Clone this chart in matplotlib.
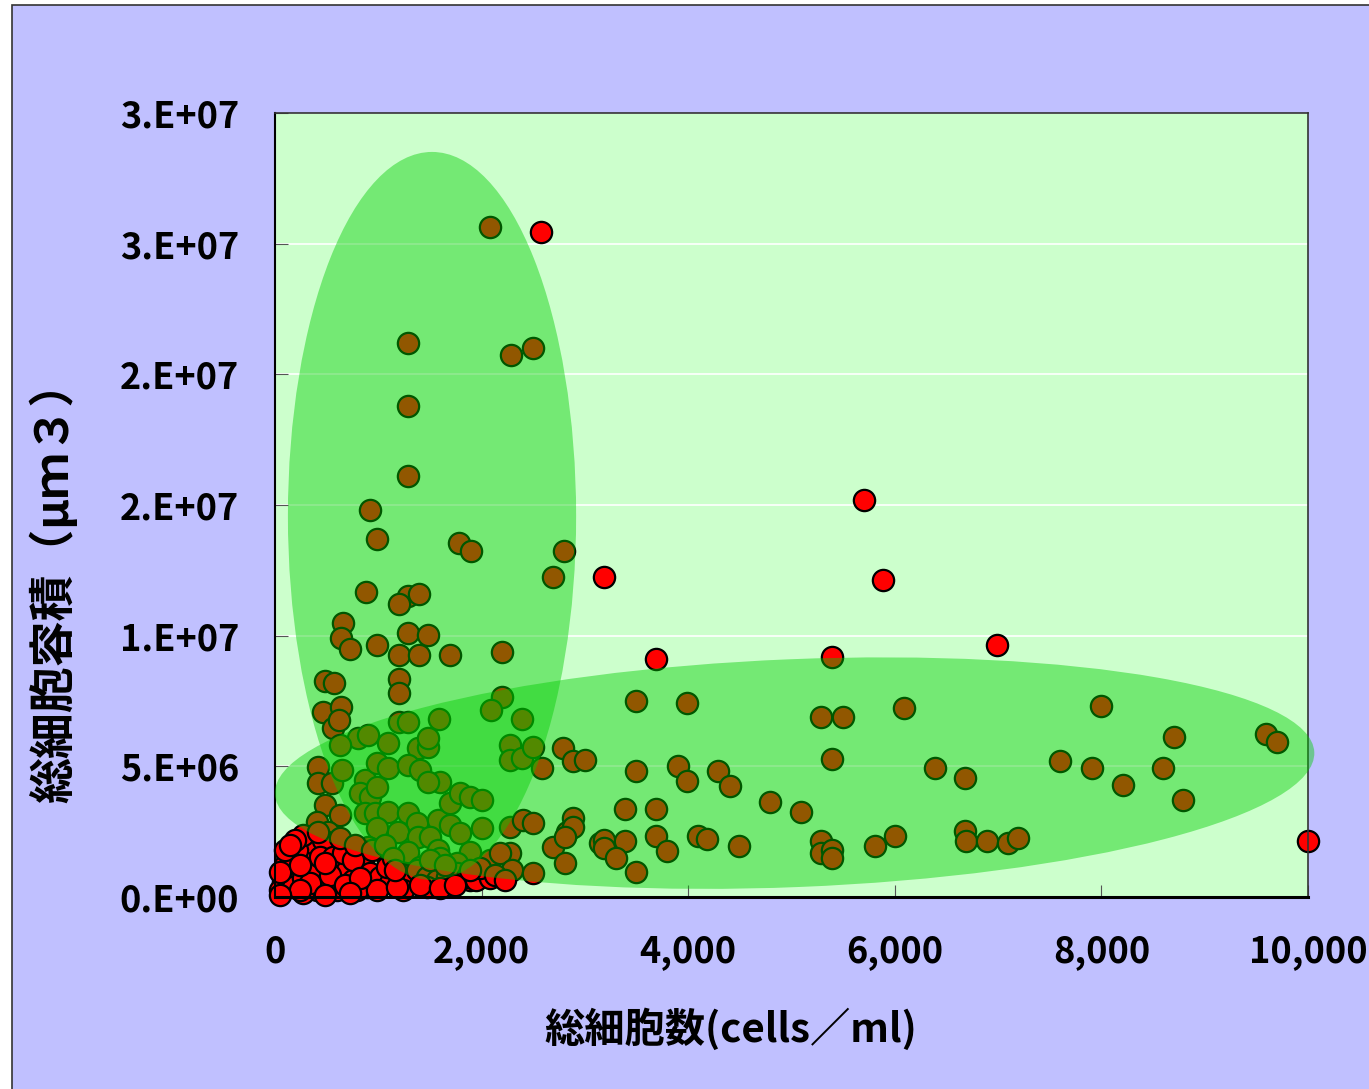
import numpy as np
import matplotlib
matplotlib.use('Agg')
import matplotlib.pyplot as plt
from matplotlib.patches import Ellipse, Rectangle
from matplotlib.transforms import IdentityTransform

plt.rcParams['font.family'] = ['Noto Sans CJK JP', 'DejaVu Sans']

# 総細胞数 (cells/ml) and 総細胞容積 (um3)
cells = np.array([
    # isolated high points
    2575, 5700, 3185, 5885, 3690, 5390, 6990, 10000,
    # upper part of the vertical group
    2080, 1287, 2285, 2497, 1287, 1287, 920, 987, 1781, 1897, 2797, 2691,
    881, 1287, 1394, 1200, 658, 639, 726, 987, 1287, 1481, 1200, 1394, 1694, 2197,
    # crowded middle
    484, 571, 1200, 1200, 465, 639, 561, 620, 1200, 1287, 1588, 2197, 2091, 2391,
    803, 900, 629, 1094, 1384, 1481, 1481, 2275, 2275, 2391, 2497, 2585, 2788, 2885, 3001,
    416, 416, 552, 649, 871, 987, 1094, 1287, 1404, 1597, 1481, 823, 920, 987,
    484, 629, 407, 513, 610, 871, 968, 1094, 1287, 1375, 1578, 1694, 1791, 1888, 2004,
    987, 1191, 1384, 1500, 1694, 1791, 2004, 2275, 2401, 2497, 2275, 2081, 2178, 2294, 2497,
    2691, 2807, 2885, 2827, 3146, 774, 900, 1287, 1578, 1888, 1084, 1404, 1597, 1762, 2013, 1888,
    # horizontal group
    3494, 3988, 5285, 5498, 6089, 5392, 6389, 3494, 3901, 3988, 4288, 4404, 4792, 5092,
    3388, 3688, 2885, 2807, 3185, 3185, 3388, 3301, 3688, 3795, 4095, 4182, 4492,
    5285, 5285, 5392, 5392, 5808, 6002, 3494, 6680, 6680, 6690,
    8000, 8700, 9590, 9700, 7600, 7910, 8210, 8600, 8790, 6890, 7095, 7190,
    # small cells near the origin
    77, 48, 145, 174, 271, 339, 310, 368, 465, 436, 561, 600, 503, 407, 271,
    697, 755, 852, 920, 891, 1016, 1113, 1084, 1210, 1307, 1239, 1375, 1471, 1568, 1665,
    1762, 1859, 145, 213, 658, 755, 339, 600, 794, 987, 1181, 1471, 271, 416, 97, 48,
    1946, 2081,
    97, 194, 629, 774, 939, 1065, 1142, 1500, 1646, 1984, 2130, 2226, 242, 532,
    678, 823, 1162, 1404, 1597, 1742, 1888, 484, 145, 242, 484, 726, 48,
])
volume = np.array([
    25.45, 15.19, 12.24, 12.13, 9.11, 9.18, 9.64, 2.14,
    25.64, 21.20, 20.74, 21.01, 18.79, 16.11, 14.81, 13.70, 13.55, 13.24, 13.24, 12.24,
    11.67, 11.52, 11.59, 11.21, 10.48, 9.91, 9.49, 9.64, 10.10, 10.03, 9.26, 9.26, 9.26, 9.37,
    8.27, 8.19, 8.34, 7.81, 7.08, 7.27, 6.47, 6.77, 6.70, 6.70, 6.81, 7.65, 7.16, 6.81,
    6.08, 6.20, 5.82, 5.89, 5.70, 5.74, 6.08, 5.82, 5.24, 5.32, 5.74, 4.94, 5.70, 5.20, 5.24,
    4.97, 4.36, 4.36, 4.86, 4.48, 5.13, 4.94, 5.05, 4.86, 4.40, 4.40, 3.98, 3.83, 4.21,
    3.52, 3.14, 2.87, 2.49, 2.10, 3.21, 3.21, 3.25, 3.21, 2.83, 2.95, 3.60, 3.98, 3.83, 3.71,
    2.64, 2.49, 2.30, 2.30, 2.76, 2.45, 2.64, 2.68, 2.95, 2.83, 1.68, 1.42, 1.68, 1.03, 0.92,
    1.91, 1.30, 3.02, 2.49, 2.07, 1.91, 1.91, 1.72, 1.80, 1.72, 1.53, 1.15, 1.49, 1.30, 0.92, 0.65,
    7.50, 7.42, 6.89, 6.89, 7.23, 5.28, 4.94, 4.82, 5.01, 4.44, 4.82, 4.25, 3.64, 3.25,
    3.37, 3.37, 2.68, 2.30, 2.18, 1.88, 2.14, 1.49, 2.33, 1.76, 2.33, 2.22, 1.95,
    2.14, 1.68, 1.80, 1.49, 1.95, 2.33, 0.96, 4.55, 2.53, 2.14,
    7.31, 6.12, 6.24, 5.93, 5.20, 4.94, 4.29, 4.94, 3.71, 2.14, 2.07, 2.26,
    0.57, 0.27, 0.77, 0.38, 0.73, 1.03, 1.68, 2.07, 2.18, 1.53, 1.53, 1.03, 0.54, 0.27, 0.15,
    1.03, 0.65, 1.30, 0.92, 0.38, 0.77, 0.54, 1.15, 0.92, 0.65, 0.27, 1.03, 0.77, 0.65, 0.77,
    0.92, 0.77, 1.53, 1.80, 1.68, 1.42, 0.54, 0.27, 0.27, 0.27, 0.38, 0.38, 2.37, 2.49, 1.22, 0.96,
    0.65, 0.73,
    1.80, 2.18, 2.26, 1.99, 1.80, 1.99, 1.49, 1.42, 1.22, 1.11, 0.84, 0.65, 1.22, 0.84,
    0.46, 0.73, 1.03, 0.46, 0.34, 0.46, 1.03, 1.30, 1.99, 0.27, 0.08, 0.15, 0.08,
]) * 1e6

yticks = [0, 5e6, 1e7, 1.5e7, 2e7, 2.5e7, 3e7]
ylabels = ['0.E+00', '5.E+06', '1.E+07', '2.E+07', '2.E+07', '3.E+07', '3.E+07']
xticks = [0, 2000, 4000, 6000, 8000, 10000]
xlabels = ['0', '2,000', '4,000', '6,000', '8,000', '10,000']

# highlighted groups: (center x, center y, width, height, angle)
groups = [
    (1520, 1.458e7, 2790, 2.786e7, 0.0),
    (5030, 4.74e6, 10070, 8.72e6, 2.3),
]

fig = plt.figure(figsize=(13.69, 10.89), dpi=100)
fig.patch.set_facecolor('white')
fig.patches.append(Rectangle((12 / 1369, -0.01), 1.0, 1 - 5 / 1089 + 0.01,
                             transform=fig.transFigure, facecolor='#c0c0ff',
                             edgecolor='#333333', linewidth=1.2, zorder=-10))

ax = fig.add_axes([275 / 1369, 1 - 897 / 1089, 1033 / 1369, 784 / 1089])
ax.set_facecolor('#ccffcc')
ax.set_xlim(0, 10000)
ax.set_ylim(0, 3e7)

ax.set_yticks(yticks)
ax.set_yticklabels(ylabels)
ax.set_xticks(xticks)
ax.set_xticklabels(xlabels)
for lab in ax.get_xticklabels() + ax.get_yticklabels():
    lab.set_fontweight('bold')
    lab.set_fontsize(26)
ax.tick_params(axis='y', direction='in', length=9, color='#555555', pad=26)
ax.tick_params(axis='x', direction='in', length=9, color='#555555', pad=26)
ax.grid(axis='y', color='white', linewidth=1.2, zorder=0.5)
ax.set_axisbelow(True)

for side in ['top', 'right']:
    ax.spines[side].set_color('#333333')
    ax.spines[side].set_linewidth(1.2)
ax.spines['left'].set_linewidth(1.5)
ax.spines['bottom'].set_linewidth(2.2)

ax.scatter(cells, volume, s=235, c='#ff0000', edgecolors='black',
           linewidths=1.6, zorder=2, clip_on=False)

fig.canvas.draw()
px_x = ax.bbox.width / 10000
px_y = ax.bbox.height / 3e7
for cx, cy, w, h, ang in groups:
    center = ax.transData.transform((cx, cy))
    e = Ellipse(center, w * px_x, h * px_y, angle=ang, transform=IdentityTransform(),
                facecolor=(0, 0.8, 0), alpha=0.43, edgecolor='none', zorder=3, clip_on=False)
    ax.add_artist(e)

fig.text(731 / 1369, 1 - 1030 / 1089, '総細胞数(cells／ml)', ha='center', va='center',
         fontsize=29, fontweight='bold')
fig.text(54 / 1369, 1 - 581 / 1089, '総細胞容積（μｍ３）', ha='center', va='center',
         rotation=90, fontsize=33, fontweight='bold')

fig.savefig('out.png', dpi=100)
